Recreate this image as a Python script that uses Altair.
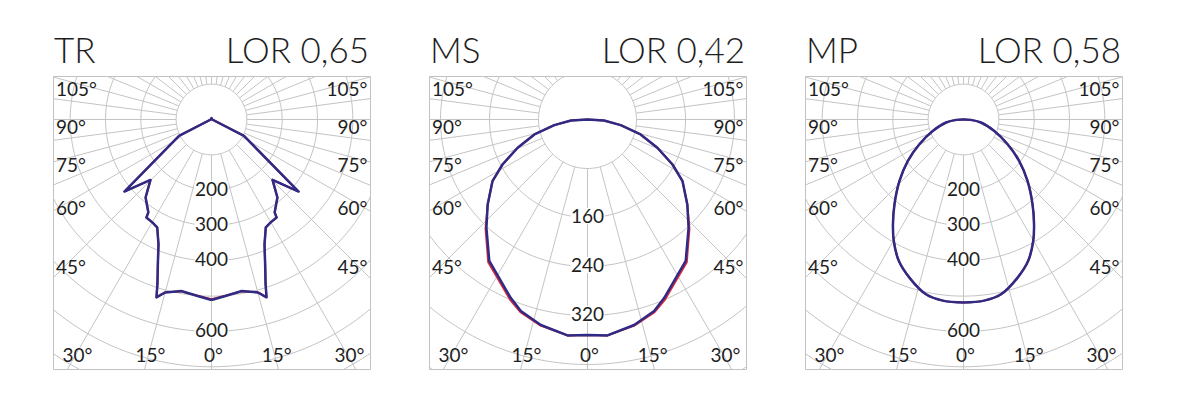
import math
import altair as alt
import pandas as pd

# ---------------- data ----------------
PANEL_NAMES = ["TR", "MS", "MP"]
PANEL_LOR = ["LOR 0,65", "LOR 0,42", "LOR 0,58"]

# luminous intensity (cd/klm) against angle from nadir (deg), one half plane
TR_ANGLES = [0, 4.5, 10, 15, 17.2, 18.2, 20.2, 23, 26.7, 29.9, 33.6, 34.2, 40.2, 45.3, 50.4, 63.2, 90, 180]
TR_BLUE = [511, 501, 493, 507, 527, 490, 440, 384, 342, 336, 333, 318, 289, 243, 320, 103, 2, 4]
TR_RED = [509, 500, 494, 506, 526, 490, 440, 384, 342, 336, 333, 318, 289, 243, 319, 103, 2, 4]

MS_ANGLES = [0, 5.3, 12.8, 19.2, 23.3, 34.8, 43, 49.6, 57, 62.1, 68, 74.3, 80.4, 86.6, 90]
MS_BLUE = [352, 354, 344, 331, 317, 281, 242, 214, 185, 157, 123, 90, 55, 27, 0]
MS_RED = [352, 354, 345, 333, 320, 284, 244, 214, 185, 157, 123, 90, 55, 27, 0]

MP_ANGLES = [0, 6.5, 12.1, 18.9, 24.6, 29.9, 34, 39.2, 46.2, 53.4, 60.7, 69.7, 80.2, 87, 90]
MP_BLUE = [518, 516, 506, 473, 440, 396, 357, 309, 251, 196, 143, 92, 50, 21, 0]
MP_RED = [518, 516, 506, 473, 440, 396, 357, 309, 251, 196, 143, 92, 50, 21, 0]

RING_STEP = [100, 80, 100]
RING_COUNT = [8, 6, 8]
RING_LABELS = [[200, 300, 400, 600], [160, 240, 320], [200, 300, 400, 600]]

SIDE_LABEL_ANGLES = [45, 60, 75, 90, 105]
BOTTOM_LABEL_ANGLES = [0, 15, 30]
MAJOR_RAYS = [0, 15, 30, 45, 60, 75, 90, 105, 120, 135, 150, 165, 180,
              195, 210, 225, 240, 255, 270, 285, 300, 315, 330, 345]
MINOR_RAYS = [67.5, 82.5, 97.5, 112.5, 127.5, 142.5, 157.5, 172.5,
              187.5, 202.5, 217.5, 232.5, 247.5, 262.5, 277.5, 292.5]

CURVES = [(TR_ANGLES, TR_BLUE, TR_RED), (MS_ANGLES, MS_BLUE, MS_RED), (MP_ANGLES, MP_BLUE, MP_RED)]
CURVE_INTERP = ["linear", "linear", "catmull-rom"]

# ---------------- layout / style ----------------
PX_PER_UNIT = [0.3533, 0.6125, 0.3533]
W, H = 317, 293
CX, CY = 158.5, 43.5
GRID = "#c4c4c4"
BLUE = "#2f2a84"
RED = "#e0283c"
TEXT = "#1e1e1e"
FONT = "Lato"
LABEL_SIZE = 19


def curve_table(angles, values):
    rows = []
    idx = 0
    for a, v in zip(angles, values):
        rows.append({"a": a, "r": v, "side": -1, "idx": idx})
        idx += 1
    for a, v in zip(reversed(angles), reversed(values)):
        rows.append({"a": a, "r": v, "side": 1, "idx": idx})
        idx += 1
    return pd.DataFrame(rows)


def panel(i):
    k = PX_PER_UNIT[i]
    xs = alt.Scale(domain=[-CX / k, (W - CX) / k], nice=False, zero=False)
    ys = alt.Scale(domain=[-(H - CY) / k, CY / k], nice=False, zero=False)
    X = alt.X("x:Q", scale=xs, axis=None)
    Y = alt.Y("y:Q", scale=ys, axis=None)
    step = RING_STEP[i]
    n = RING_COUNT[i]

    rings = alt.Chart(alt.sequence(0, n * 181, as_="t")).transform_calculate(
        ring=f"(floor(datum.t / 181) + 1) * {step}",
        ang="(datum.t % 181) * 2 * PI / 180",
    ).transform_calculate(
        x="datum.ring * sin(datum.ang)", y="-datum.ring * cos(datum.ang)"
    ).mark_line(clip=True, color=GRID, strokeWidth=1).encode(
        x=X, y=Y, detail="ring:Q", order="t:Q"
    )

    ray_df = pd.DataFrame({"a": MAJOR_RAYS + MINOR_RAYS})
    rays = alt.Chart(ray_df).transform_calculate(
        rad="datum.a * PI / 180"
    ).transform_calculate(
        x=f"{step} * sin(datum.rad)", y=f"-{step} * cos(datum.rad)",
        x2=f"{step * 20} * sin(datum.rad)", y2=f"-{step * 20} * cos(datum.rad)",
    ).mark_rule(clip=True, color=GRID, strokeWidth=1).encode(
        x=X, y=Y, x2="x2:Q", y2="y2:Q"
    )

    angles, blue, red = CURVES[i]

    def curve(values, color, width):
        return alt.Chart(curve_table(angles, values)).transform_calculate(
            rad="datum.a * PI / 180"
        ).transform_calculate(
            x="datum.side * datum.r * sin(datum.rad)", y="-datum.r * cos(datum.rad)"
        ).mark_line(clip=True, color=color, strokeWidth=width, strokeJoin="round",
                    interpolate=CURVE_INTERP[i]).encode(
            x=X, y=Y, order="idx:Q"
        )

    lab_df = pd.DataFrame({"v": RING_LABELS[i]})
    lab_bg = alt.Chart(lab_df).transform_calculate(
        x=f"-17 / {k}", x2=f"17 / {k}",
        y=f"-datum.v + 9.5 / {k}", y2=f"-datum.v - 6.5 / {k}",
    ).mark_rect(color="white").encode(x=X, y=Y, x2="x2:Q", y2="y2:Q")
    lab_txt = alt.Chart(lab_df).transform_calculate(
        x="0", y="-datum.v", label="datum.v + ''"
    ).mark_text(fontSize=LABEL_SIZE, font=FONT, color=TEXT, baseline="alphabetic", dy=5.5, align="center").encode(
        x=X, y=Y, text="label:N"
    )

    side_rows = [{"a": a, "side": s} for a in SIDE_LABEL_ANGLES for s in (-1, 1)]
    side_df = pd.DataFrame(side_rows)
    side_left = alt.Chart(side_df).transform_filter("datum.side < 0").transform_calculate(
        rad="datum.a * PI / 180", label="datum.a + '°'"
    ).transform_calculate(
        x=f"{-CX + 3} / {k}",
        y=f"-(7.5 + 140 * cos(datum.rad) / sin(datum.rad)) / {k}",
    ).mark_text(fontSize=LABEL_SIZE, font=FONT, color=TEXT, align="left", baseline="alphabetic", dy=7).encode(
        x=X, y=Y, text="label:N"
    )
    side_right = alt.Chart(side_df).transform_filter("datum.side > 0").transform_calculate(
        rad="datum.a * PI / 180", label="datum.a + '°'"
    ).transform_calculate(
        x=f"{W - CX - 2.5} / {k}",
        y=f"-(7.5 + 140 * cos(datum.rad) / sin(datum.rad)) / {k}",
    ).mark_text(fontSize=LABEL_SIZE, font=FONT, color=TEXT, align="right", baseline="alphabetic", dy=7).encode(
        x=X, y=Y, text="label:N"
    )

    bot_rows = [{"a": a, "side": s} for a in BOTTOM_LABEL_ANGLES for s in ((1,) if a == 0 else (-1, 1))]
    bot_df = pd.DataFrame(bot_rows)
    bottom = alt.Chart(bot_df).transform_calculate(
        rad="datum.a * PI / 180", label="datum.a + '°'"
    ).transform_calculate(
        x=f"(datum.side * 235.5 * tan(datum.rad) + 2) / {k}", y=f"-235.5 / {k}"
    ).mark_text(fontSize=LABEL_SIZE, font=FONT, color=TEXT, align="center", baseline="alphabetic", dy=7).encode(
        x=X, y=Y, text="label:N"
    )

    title_df = pd.DataFrame({"t": [PANEL_NAMES[i]], "l": [PANEL_LOR[i]]})
    t_left = alt.Chart(title_df).mark_text(
        fontSize=35, font=FONT, fontWeight=300, color=TEXT, align="left", baseline="alphabetic"
    ).encode(x=alt.value(1), y=alt.value(-13), text="t:N")
    t_right = alt.Chart(title_df).mark_text(
        fontSize=35, font=FONT, fontWeight=300, color=TEXT, align="right", baseline="alphabetic"
    ).encode(x=alt.value(W - 1), y=alt.value(-13), text="l:N")

    return alt.layer(
        rings, rays, lab_bg, lab_txt, side_left, side_right, bottom,
        curve(red, RED, 2), curve(blue, BLUE, 2.5), t_left, t_right
    ).properties(width=W, height=H)


chart = alt.hconcat(panel(0), panel(1), panel(2), spacing=57).properties(
    padding={"left": 44, "top": 26, "right": 5, "bottom": 5}
).configure_view(stroke="#c2c2c2", strokeWidth=1)

chart.save("out.html", embed_options={"renderer": "svg", "actions": False})
